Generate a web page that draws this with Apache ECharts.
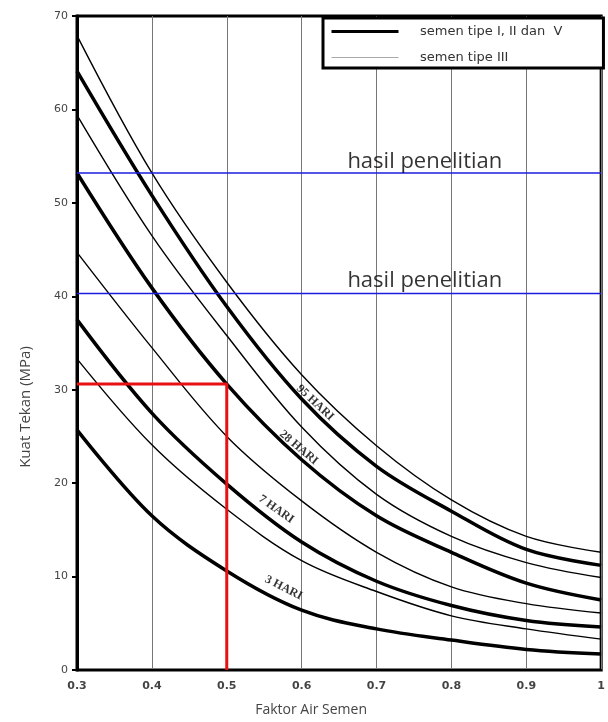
<!DOCTYPE html>
<html><head><meta charset="utf-8">
<script src="https://cdn.jsdelivr.net/npm/echarts@6/dist/echarts.min.js"></script>
<style>html,body{margin:0;padding:0;background:#fff}#c{width:608px;height:722px}</style>
</head><body><div id="c"></div>
<script>
// water-cement ratio sample points
const xValues = [0.3, 0.4, 0.5, 0.6, 0.7, 0.8, 0.9, 1.0];
// semen tipe I, II dan V (thick curves)
const typeI_3  = [25.7, 16.5, 10.6, 6.4, 4.4, 3.2, 2.2, 1.7];
const typeI_7  = [37.5, 27.5, 19.9, 13.7, 9.5, 6.9, 5.3, 4.6];
const typeI_28 = [53.2, 40.9, 30.6, 22.5, 16.5, 12.6, 9.3, 7.5];
const typeI_91 = [64.1, 50.8, 38.9, 29.0, 21.8, 17.0, 12.9, 11.2];
// semen tipe III (thin curves)
const typeIII_3  = [33.3, 24.1, 17.2, 11.7, 8.4, 5.8, 4.4, 3.3];
const typeIII_7  = [44.7, 34.5, 25.0, 18.1, 12.6, 8.9, 7.1, 6.1];
const typeIII_28 = [59.4, 46.5, 35.8, 26.0, 18.8, 14.3, 11.5, 9.9];
const typeIII_91 = [67.9, 53.2, 41.5, 31.6, 24.0, 18.2, 14.3, 12.6];
// research result levels (blue) and reading lines (red)
const hasilLevels = [53.2, 40.3];
const hasilLabelPos = [[0.7645, 54.44], [0.7645, 41.63]];
const redReading = [0.5, 30.6];
// curve labels
const curveLabelText = ['95 HARI', '28 HARI', '7 HARI', '3 HARI'];
const curveLabelPos = [[0.618, 28.6], [0.596, 23.8], [0.566, 17.2], [0.576, 8.8]];
const curveLabelRot = [-43, -40, -35, -27];
const nameI = 'semen tipe I, II dan  V';
const nameIII = 'semen tipe III';

const pts = arr => xValues.map((x, i) => [x, arr[i]]);
const thick = arr => ({type:'line', name:nameI, data:pts(arr), smooth:0.35, symbol:'none',
  lineStyle:{color:'#000', width:3.5}, z:3});
const thin = arr => ({type:'line', name:nameIII, data:pts(arr), smooth:0.35, symbol:'none',
  lineStyle:{color:'#000', width:1.4}, z:3});

const series = [
  thick(typeI_91), thick(typeI_28), thick(typeI_7), thick(typeI_3),
  thin(typeIII_91), thin(typeIII_28), thin(typeIII_7), thin(typeIII_3)
];
hasilLevels.forEach((v, i) => series.push({type:'line', name:'hasil' + i, data:[[0.3, v],[1.0, v]], symbol:'none',
  lineStyle:{color:'#1c1ce0', width:1.6}, z:4, silent:true}));
series.push({type:'line', name:'baca', data:[[0.3, redReading[1]], [redReading[0], redReading[1]], [redReading[0], 0]],
  symbol:'none', lineStyle:{color:'#e81010', width:3}, z:5, silent:true});
series.push({type:'scatter', name:'hasilLabel', symbol:'circle', symbolSize:1, itemStyle:{color:'transparent'}, z:6, silent:true,
  data: hasilLabelPos.map(p => ({value:p})),
  label:{show:true, position:'inside', formatter:'hasil penelitian', fontFamily:'Open Sans', fontSize:22, color:'#000'}});
series.push({type:'scatter', name:'hariLabel', symbol:'circle', symbolSize:1, itemStyle:{color:'transparent'}, z:6, silent:true,
  data: curveLabelPos.map((p, i) => ({value:p, label:{rotate:curveLabelRot[i], formatter:curveLabelText[i]}})),
  label:{show:true, position:'inside', fontFamily:'Liberation Serif', fontWeight:'bold', fontSize:12, color:'#000'}});

const chart = echarts.init(document.getElementById('c'), null, {renderer:'canvas'});
chart.setOption({
  animation:false,
  backgroundColor:'#fff',
  grid:{left:77, right:5, top:16, bottom:49, show:true, borderColor:'#000', borderWidth:3, backgroundColor:'transparent'},
  legend:{
    orient:'vertical', left:323, top:18, itemWidth:67, itemHeight:14, itemGap:13,
    padding:[7, 41, 4, 7], borderColor:'#000', borderWidth:3, backgroundColor:'#fff',
    selectedMode:false, z:10,
    textStyle:{fontFamily:'DejaVu Sans', fontSize:13, color:'#333'},
    formatter: n => '    ' + n,
    data:[
      {name:nameI, itemStyle:{color:'transparent', borderWidth:0}, lineStyle:{color:'#000', width:3}},
      {name:nameIII, itemStyle:{color:'transparent', borderWidth:0}, lineStyle:{color:'#aaa', width:1.2}}
    ]
  },
  xAxis:{
    type:'value', min:0.3, max:1.0, interval:0.1,
    name:'Faktor Air Semen', nameLocation:'middle', nameGap:33,
    nameTextStyle:{fontFamily:'Open Sans', fontSize:14, color:'#444', padding:[0,56,0,0]},
    axisLine:{show:true, onZero:false, lineStyle:{color:'#000', width:2}},
    axisTick:{show:false},
    axisLabel:{margin:11, fontFamily:'DejaVu Sans', fontWeight:'bold', fontSize:11, color:'#444',
      formatter: v => String(+v.toFixed(1))},
    splitLine:{show:true, lineStyle:{color:'#777', width:1}}
  },
  yAxis:{
    type:'value', min:0, max:70, interval:10,
    name:'Kuat Tekan (MPa)', nameLocation:'middle', nameGap:44,
    nameTextStyle:{fontFamily:'Open Sans', fontSize:15, color:'#444', padding:[0,128,0,0]},
    axisLine:{show:true, lineStyle:{color:'#000', width:3}},
    axisTick:{show:true, inside:false, length:5, lineStyle:{color:'#000', width:2}},
    axisLabel:{margin:9, fontFamily:'DejaVu Sans', fontSize:11, color:'#444'},
    splitLine:{show:false}
  },
  series: series
});
</script></body></html>
